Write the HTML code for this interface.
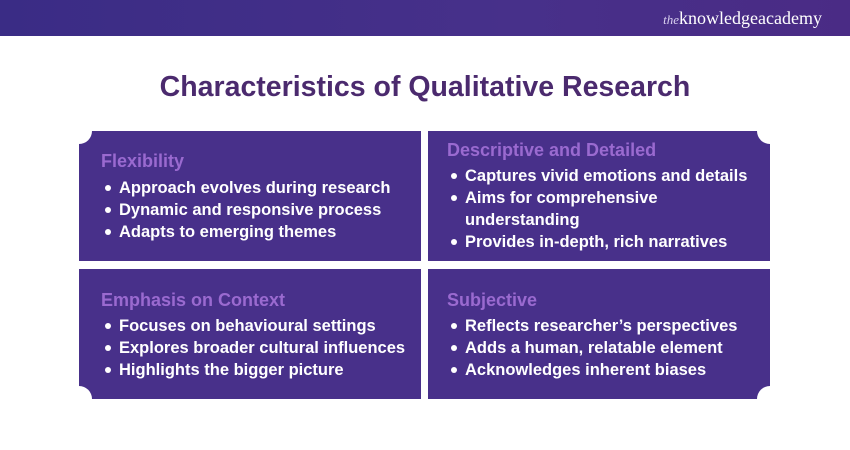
<!DOCTYPE html>
<html><head><meta charset="utf-8"><style>
*{margin:0;padding:0;box-sizing:border-box}
body{width:850px;height:450px;background:#fff;position:relative;overflow:hidden;font-family:"Liberation Sans",sans-serif}
.hdr{position:absolute;left:0;top:0;width:850px;height:36px;background:linear-gradient(90deg,#3a2c85,#47308a 60%,#4a2b85)}
.logo{position:absolute;right:28px;top:8px;color:#fff;font-family:"Liberation Serif",serif;font-size:18px}
.logo i{font-size:13px;color:#d8d0ef}
.title{position:absolute;left:0;width:850px;top:71px;text-align:center;font-size:28.5px;font-weight:bold;color:#4b2a6e}
.card{position:absolute;background:#48308a;width:342px;height:130px;overflow:hidden}
.n{position:absolute;width:26px;height:26px;border-radius:50%;background:#fff}
.h{position:absolute;left:22px;font-size:18px;font-weight:bold;color:#9a6ad0}
.l{position:absolute;left:40px;font-size:16.5px;font-weight:bold;color:#fff;white-space:nowrap;line-height:22px}
.l:before{content:"";position:absolute;left:-14px;top:8px;width:6px;height:6px;border-radius:50%;background:#fff}
</style></head><body>
<div class="hdr"><div class="logo"><i>the</i>knowledge<b style="font-weight:normal">academy</b></div></div>
<div class="title">Characteristics of Qualitative Research</div>

<div class="card" style="left:79px;top:131px"><div class="n" style="left:-13px;top:-13px"></div>
<div class="h" style="top:20px">Flexibility</div>
<div class="l" style="top:46px">Approach evolves during research</div>
<div class="l" style="top:68px">Dynamic and responsive process</div>
<div class="l" style="top:90px">Adapts to emerging themes</div></div>

<div class="card" style="left:428px;top:131px"><div class="n" style="right:-13px;top:-13px"></div>
<div class="h" style="top:9px;left:19px">Descriptive and Detailed</div>
<div class="l" style="top:34px;left:37px">Captures vivid emotions and details</div>
<div class="l" style="top:56px;left:37px">Aims for comprehensive<br>understanding</div>
<div class="l" style="top:100px;left:37px">Provides in-depth, rich narratives</div></div>

<div class="card" style="left:79px;top:269px"><div class="n" style="left:-13px;bottom:-13px"></div>
<div class="h" style="top:21px">Emphasis on Context</div>
<div class="l" style="top:46px">Focuses on behavioural settings</div>
<div class="l" style="top:68px">Explores broader cultural influences</div>
<div class="l" style="top:90px">Highlights the bigger picture</div></div>

<div class="card" style="left:428px;top:269px"><div class="n" style="right:-13px;bottom:-13px"></div>
<div class="h" style="top:21px;left:19px">Subjective</div>
<div class="l" style="top:46px;left:37px">Reflects researcher’s perspectives</div>
<div class="l" style="top:68px;left:37px">Adds a human, relatable element</div>
<div class="l" style="top:90px;left:37px">Acknowledges inherent biases</div></div>
</body></html>
